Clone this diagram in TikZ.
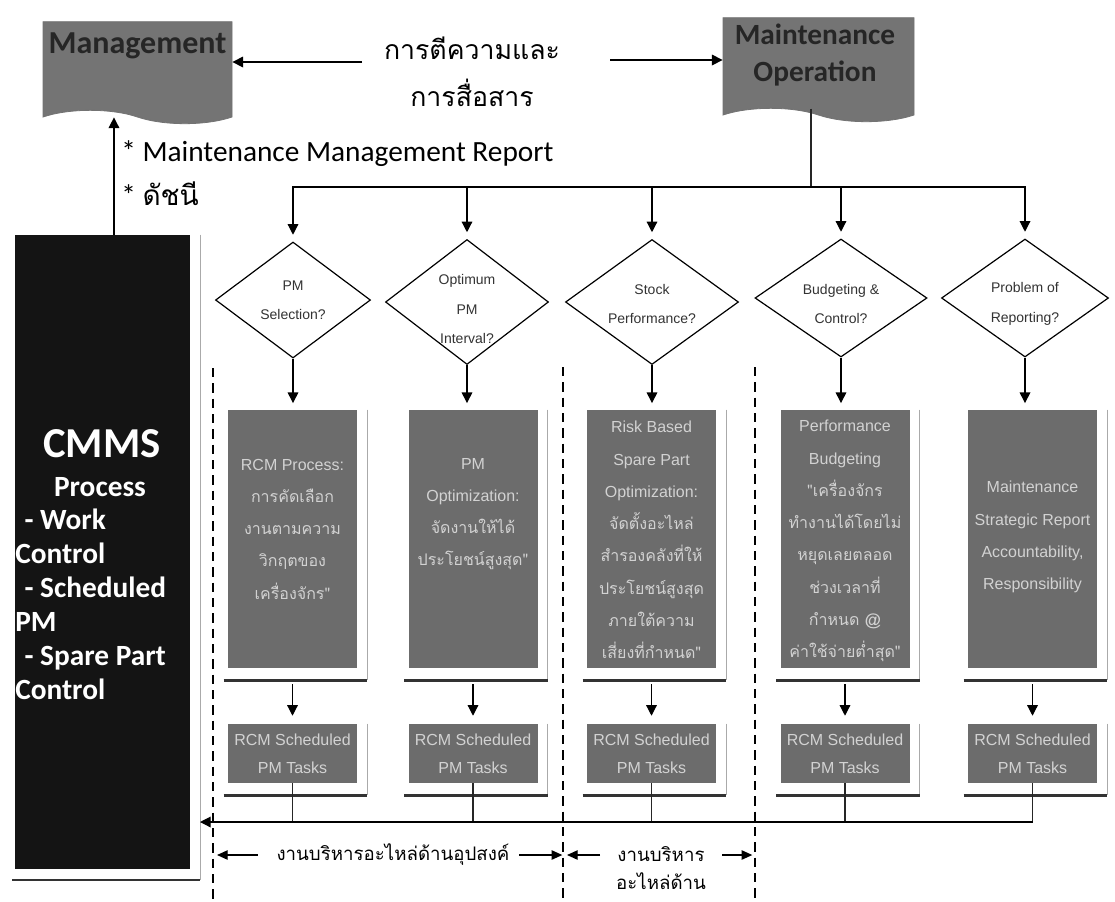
\documentclass[tikz,border=0pt]{standalone}
\usepackage{fontspec}
\setmainfont{Liberation Sans}
\newfontfamily\calfont{Carlito}
\newfontfamily\thaifont[Script=Thai]{Loma}
\usetikzlibrary{shapes.geometric,shapes.symbols,arrows.meta}
\definecolor{docgray}{RGB}{116,116,116}
\definecolor{boxgray}{RGB}{108,108,108}
\definecolor{boxtxt}{RGB}{210,210,210}
\definecolor{cmmsbg}{RGB}{20,20,20}
\definecolor{framelight}{RGB}{170,170,170}
\tikzset{
 ar/.style={-{Triangle[width=8pt,length=8pt]}, line width=0.9pt, black},
 sar/.style={-{Triangle[width=7pt,length=8pt]}, line width=1pt, black},
 conn/.style={line width=0.9pt, black!85},
 docshape/.style={tape, tape bend top=none, tape bend bottom=out and in, tape bend height=10pt, fill=docgray, draw=black!55, line width=0.6pt, inner sep=0pt},
 doctext/.style={font=\calfont\bfseries\fontsize{22}{27.75}\selectfont, text=black!85, align=center, inner sep=0pt},
 dia/.style={diamond, draw=black, line width=0.9pt, fill=white, inner sep=0pt},
 diatext/.style={font=\fontsize{10.5}{22}\selectfont, text=black!80, align=center, inner sep=0pt},
 gbox/.style={rectangle, fill=boxgray, inner sep=0pt, minimum width=96.75pt},
 bigbox/.style={gbox, minimum height=193.5pt},
 smallbox/.style={gbox, minimum height=44.25pt},
 gtext/.style={font=\fontsize{12}{24.2}\selectfont, text=boxtxt, align=center, inner sep=0pt},
 frameR/.style={draw=framelight, line width=1pt},
 frameB/.style={draw=black!80, line width=2pt},
 dashline/.style={line width=1.8pt, dash pattern=on 7pt off 4.5pt, black},
 thaitop/.style={font=\thaifont\fontsize{20}{35}\selectfont, align=center, inner sep=0pt},
 thaibot/.style={font=\thaifont\fontsize{14}{20}\selectfont, align=center, inner sep=0pt},
 reptext/.style={font=\calfont\fontsize{22}{26}\selectfont, anchor=west, inner sep=0pt},
 cmmslist/.style={font=\calfont\bfseries\fontsize{22}{25.5}\selectfont, text=white, align=left, inner sep=0pt, anchor=north west},
}
\begin{document}
\begin{tikzpicture}[x=0.75pt,y=-0.75pt]
\useasboundingbox (0,0) rectangle (1115,901);
\fill[white] (0,0) rectangle (1115,901);

% top document shapes
\node[docshape, minimum width=141.75pt, minimum height=76.5pt] (mgmt) at (137.5,66) {};
\node[doctext, font=\calfont\bfseries\fontsize{24}{28}\selectfont] (mgmtT) at (137.5,46) {Management};
\node[docshape, minimum width=143.25pt, minimum height=78pt] (mo) at (818.5,63) {};
\node[doctext] (moT) at (815,55) {Maintenance\\Operation};

% interpretation text and arrows
\node[thaitop] (interp) at (472,72) {การตีความและ\\การสื่อสาร};
\coordinate (tlA) at (362,62);
\draw[ar] (tlA) -- (tlA -| mgmt.east);
\coordinate (tlB) at (610,60);
\draw[ar] (tlB) -- (tlB -| mo.west);

\node[reptext] (rep1) at (121,154) {* Maintenance Management Report};
\node[reptext] (rep2) at (121,194) {* {\thaifont\fontsize{21}{26}\selectfont ดัชนี}};

% CMMS block
\node[rectangle, fill=cmmsbg, inner sep=0pt, minimum width=131.25pt, minimum height=475.5pt] (cmms) at (102.5,552) {};
\draw[frameR] ([xshift=7.5pt]cmms.north east) -- ([xshift=7.5pt,yshift=-8pt]cmms.south east);
\draw[frameB] ([xshift=-2pt,yshift=-8pt]cmms.south west) -- ([xshift=7.5pt,yshift=-8pt]cmms.south east);
\node[font=\calfont\bfseries\fontsize{32}{36}\selectfont, text=white, inner sep=0pt] (cmmsT) at (102,444) {CMMS};
\node[font=\calfont\bfseries\fontsize{22}{26}\selectfont, text=white, inner sep=0pt] (procT) at (100,487) {Process};
\node[cmmslist] (cmmsL) at (15,509) {\hspace*{7pt}- Work\\Control\\\hspace*{7pt}- Scheduled\\PM\\\hspace*{7pt}- Spare Part\\Control};
\draw[ar, shorten >=5pt] ([xshift=8.6pt]cmms.north) -- ([xshift=8.6pt]cmms.north |- mgmt.south);

% diamonds
\node[dia, minimum width=116.25pt, minimum height=87pt] (d1) at (293,300) {};
\node[dia, minimum width=122.25pt, minimum height=93.75pt] (d2) at (467,302) {};
\node[dia, minimum width=129.75pt, minimum height=93.75pt] (d3) at (652,302) {};
\node[dia, minimum width=129pt, minimum height=88.5pt] (d4) at (841,298) {};
\node[dia, minimum width=125.25pt, minimum height=88.5pt] (d5) at (1025,298) {};
\node[diatext] (t1) at (293,300) {PM\\Selection?};
\node[diatext] (t2) at (467,309) {Optimum\\PM\\Interval?};
\node[diatext] (t3) at (652,304) {Stock\\Performance?};
\node[diatext] (t4) at (841,304) {Budgeting \&\\Control?};
\node[diatext] (t5) at (1025,304) {Problem of\\Reporting?};

% top bus
\coordinate (bus) at (811,187);
\draw[conn] (mo.south -| bus) -- (bus);
\foreach \nm in {d1,d2,d3,d4,d5} \draw[ar, shorten >=5pt] (bus) -| (\nm.north);

% boxes
\node[bigbox] (b1) at (292.5,539) {};
\node[bigbox] (b2) at (473,539) {};
\node[bigbox] (b3) at (651.5,539) {};
\node[bigbox] (b4) at (845,539) {};
\node[bigbox] (b5) at (1032.5,539) {};
\node[smallbox] (s1) at (292.5,753.5) {};
\node[smallbox] (s2) at (473,753.5) {};
\node[smallbox] (s3) at (651.5,753.5) {};
\node[smallbox] (s4) at (845,753.5) {};
\node[smallbox] (s5) at (1032.5,753.5) {};
\foreach \nm in {b1,b2,b3,b4,b5,s1,s2,s3,s4,s5} {
  \draw[frameR] ([xshift=7.5pt]\nm.north east) -- ([xshift=7.5pt,yshift=-9pt]\nm.south east);
  \draw[frameB] ([xshift=-3pt,yshift=-9pt]\nm.south west) -- ([xshift=7.5pt,yshift=-9pt]\nm.south east);
}

\node[gtext] (bt1) at (292.5,529) {RCM Process:\\{\thaifont การคัดเลือก}\\{\thaifont งานตามความ}\\{\thaifont วิกฤตของ}\\{\thaifont เครื่องจักร"}};
\node[gtext] (bt2) at (473,514) {PM\\Optimization:\\{\thaifont จัดงานให้ได้}\\{\thaifont ประโยชน์สูงสุด"}};
\node[gtext] (bt3) at (651.5,540) {Risk Based\\Spare Part\\Optimization:\\{\thaifont จัดตั้งอะไหล่}\\{\thaifont สำรองคลังที่ให้}\\{\thaifont ประโยชน์สูงสุด}\\{\thaifont ภายใต้ความ}\\{\thaifont เสี่ยงที่กำหนด"}};
\node[gtext] (bt4) at (845,541) {Performance\\Budgeting\\{\thaifont "เครื่องจักร}\\{\thaifont ทำงานได้โดยไม่}\\{\thaifont หยุดเลยตลอด}\\{\thaifont ช่วงเวลาที่}\\{\thaifont กำหนด @}\\{\thaifont ค่าใช้จ่ายต่ำสุด"}};
\node[gtext] (bt5) at (1032.5,537) {Maintenance\\Strategic Report\\Accountability,\\Responsibility};
\foreach \i in {1,...,5} \node[gtext, font=\fontsize{12}{21}\selectfont] (st\i) at (s\i) {RCM Scheduled\\PM Tasks};

% arrows diamonds -> boxes -> small boxes
\foreach \i in {1,...,5} {
  \draw[ar, shorten >=5pt] (d\i.south) -- (d\i.south |- b\i.north);
  \draw[ar, shorten <=12pt, shorten >=6pt] (b\i.south) -- (s\i.north);
}

% dashed separators
\coordinate (dl1) at (213,855);
\coordinate (dl2) at (563,855);
\coordinate (dl3) at (755,855);
\draw[dashline] (213,368) -- (213,901);
\draw[dashline] (563,367) -- (563,901);
\draw[dashline] (755,367) -- (755,901);

% bottom bus back to CMMS
\coordinate (bbus) at (200,822);
\foreach \i in {1,...,5} \draw[conn] (s\i.south) -- (s\i.south |- bbus);
\draw[ar] (s5.south |- bbus) -- (bbus);

% bottom labels
\node[thaibot] (lblA) at (393,855) {งานบริหารอะไหล่ด้านอุปสงค์};
\node[thaibot, font=\thaifont\fontsize{14}{20.5}\selectfont] (lblB) at (661,868) {งานบริหาร\\อะไหล่ด้าน};
\draw[sar, shorten >=3pt] ([xshift=-14pt]lblA.west) -- (dl1);
\draw[sar, shorten >=0.5pt] ([xshift=7pt]lblA.east) -- (dl2);
\coordinate (lbBl) at (600,855);
\coordinate (lbBr) at (722,855);
\draw[sar, shorten >=3pt] (lbBl) -- (dl2);
\draw[sar, shorten >=2pt] (lbBr) -- (dl3);
\end{tikzpicture}
\end{document}
